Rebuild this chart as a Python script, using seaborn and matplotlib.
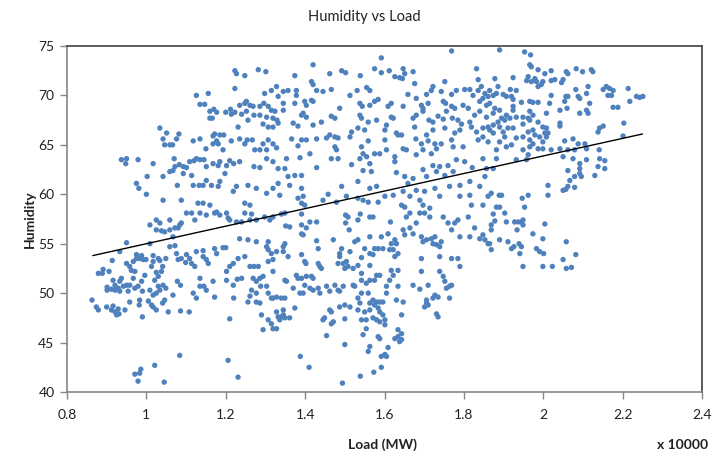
import matplotlib
matplotlib.use("Agg")
import matplotlib.pyplot as plt
import seaborn as sns
import pandas as pd
from matplotlib.ticker import FuncFormatter, MultipleLocator

# (load x10000 MW, humidity) pairs, by region
upper_left = [
(1.223,72.5),(1.227,72.2),(1.248,72.0),(1.282,72.6),(1.301,72.4),(1.223,70.7),(1.126,70.0),(1.156,70.2),
(1.298,70.2),(1.315,70.5),(1.328,70.9),(1.332,69.9),(1.135,69.1),(1.147,69.1),(1.160,68.4),(1.170,68.6),
(1.177,68.3),(1.200,68.3),(1.212,68.6),(1.223,68.3),(1.235,69.0),(1.248,69.2),(1.252,69.4),(1.261,69.0),
(1.269,68.9),(1.286,68.9),(1.296,69.2),(1.307,68.9),(1.315,68.5),(1.324,68.4),(1.319,67.7),(1.329,67.5),
(1.160,67.7),(1.166,67.7),(1.214,68.1),(1.240,68.1),(1.252,68.4),(1.256,67.5),(1.271,68.0),(1.286,68.0),
(1.303,67.8),(1.294,67.1),(1.307,66.8),(1.319,66.8),(1.332,67.2),(1.034,66.7),(1.051,66.2),(1.082,66.1),
(1.042,65.6),(1.046,65.0),(1.059,65.0),(1.066,65.0),(1.076,65.6),(1.118,65.4),(1.135,65.6),(1.168,65.9),
(1.172,66.1),(1.185,66.0),(1.195,66.0),(1.168,65.1),(1.177,65.4),(1.181,65.1),(1.193,64.5),(1.150,64.6),
(1.214,65.4),(1.231,66.8),(1.235,65.6),(1.248,65.1),(1.254,65.5),(1.267,65.5),(1.273,64.5),(1.286,64.5),
(1.294,65.1),(1.307,65.5),(1.319,65.1),(1.303,64.5),(1.328,64.7),(0.937,63.5),(0.950,63.6),(0.948,63.1),
(0.979,63.5),(1.017,63.1),(1.070,63.6),(1.072,62.8),(1.083,63.0),(1.093,62.8),(1.101,62.7),(1.109,63.3),
(1.120,63.4),(1.126,63.6),(1.135,63.5),(1.145,63.5),(1.151,62.8),(1.168,63.1),(1.181,62.9),(1.185,63.3),
(1.202,62.9),(1.210,63.4),(1.220,63.1),(1.235,63.3),(1.271,62.8),(1.286,62.7),(1.303,63.6),(1.319,63.3),
(1.332,62.6),(1.059,62.3),(1.067,62.4),(1.042,61.8),(1.002,61.8),(1.093,62.1),(1.114,61.9),(0.975,61.1),
(0.981,60.6),(1.078,60.9),(1.118,60.9),(1.133,60.9),(1.143,60.9),(1.151,61.4),(1.164,60.9),(1.181,60.8),
(1.198,62.1),(1.185,61.3),(1.227,60.8),(1.219,60.3),(1.256,60.9),(1.277,60.6),(1.303,60.1),(1.319,60.6),
(1.332,61.1),(1.000,60.0),(1.042,59.4),(1.088,59.4),(1.130,59.1),(1.143,59.1),(1.160,58.9),(1.248,59.1),
(1.261,58.9),
]

upper_middle = [
(1.769,74.5),(1.592,73.8),(1.420,73.1),(1.832,72.7),(1.374,72.0),(1.462,72.2),(1.492,72.5),(1.502,72.3),
(1.539,72.0),(1.575,72.7),(1.592,72.3),(1.612,72.5),(1.626,71.9),(1.638,71.8),(1.647,72.7),(1.651,72.2),
(1.645,71.7),(1.672,72.4),(1.836,71.6),(1.416,71.4),(1.420,71.1),(1.345,70.4),(1.357,70.5),(1.378,70.5),
(1.378,70.0),(1.429,70.5),(1.445,70.4),(1.466,70.6),(1.513,70.0),(1.531,70.5),(1.555,70.8),(1.563,70.5),
(1.659,70.1),(1.676,71.2),(1.680,69.7),(1.706,70.1),(1.718,70.5),(1.722,70.9),(1.743,70.4),(1.752,71.4),
(1.769,70.1),(1.781,70.5),(1.802,70.6),(1.815,70.6),(1.823,70.0),(1.836,70.5),(1.844,70.9),(1.853,70.2),
(1.861,69.9),(1.345,69.2),(1.374,69.2),(1.399,69.4),(1.403,69.0),(1.416,69.5),(1.420,69.4),(1.538,69.2),
(1.544,68.9),(1.563,69.0),(1.575,69.4),(1.584,69.6),(1.617,69.2),(1.609,68.9),(1.647,68.9),(1.693,69.0),
(1.697,68.7),(1.710,69.2),(1.748,69.4),(1.754,69.2),(1.769,68.9),(1.777,68.7),(1.798,69.0),(1.811,68.7),
(1.840,69.4),(1.848,69.7),(1.857,69.0),(1.345,68.5),(1.391,68.0),(1.395,68.2),(1.403,67.8),(1.466,67.9),
(1.475,67.7),(1.487,68.7),(1.538,68.0),(1.542,67.7),(1.559,67.3),(1.580,67.5),(1.605,67.0),(1.617,67.8),
(1.622,67.7),(1.672,67.7),(1.680,68.0),(1.697,68.4),(1.712,67.5),(1.722,67.3),(1.735,67.9),(1.748,67.6),
(1.756,68.4),(1.771,67.7),(1.785,67.5),(1.794,67.1),(1.815,67.3),(1.827,68.0),(1.840,68.4),(1.857,67.8),
(1.370,67.2),(1.382,66.9),(1.420,67.0),(1.441,67.3),(1.517,66.3),(1.533,66.7),(1.550,66.5),(1.601,66.5),
(1.630,66.2),(1.634,66.0),(1.643,66.0),(1.676,66.8),(1.706,66.0),(1.722,66.5),(1.752,66.7),(1.777,66.2),
(1.790,66.5),(1.819,66.8),(1.832,66.3),(1.848,66.7),(1.861,66.8),(1.366,65.6),(1.391,65.5),(1.429,65.6),
(1.454,65.7),(1.462,66.0),(1.475,65.8),(1.483,65.7),(1.513,65.8),(1.559,65.4),(1.601,65.5),(1.679,65.6),
(1.693,65.1),(1.710,65.4),(1.727,65.1),(1.743,65.1),(1.769,65.5),(1.798,64.8),(1.836,65.5),(1.848,65.8),
(1.861,65.3),(1.382,64.9),(1.403,65.5),(1.475,64.8),(1.479,64.5),(1.542,64.8),(1.546,64.1),(1.575,64.1),
(1.605,64.5),(1.647,64.6),(1.655,64.5),(1.697,64.5),(1.731,64.6),(1.773,64.8),(1.353,63.6),(1.387,63.7),
(1.412,64.1),(1.466,63.6),(1.483,63.6),(1.538,63.6),(1.555,63.8),(1.563,63.1),(1.588,64.1),(1.626,63.8),
(1.626,63.3),(1.680,64.0),(1.718,64.1),(1.722,62.9),(1.739,62.8),(1.760,62.9),(1.781,63.5),(1.802,63.3),
(1.821,62.7),(1.848,63.6),(1.857,62.6),(1.349,62.6),(1.357,61.8),(1.374,61.9),(1.391,61.9),(1.429,62.7),
(1.517,63.0),(1.546,62.4),(1.567,62.3),(1.630,62.2),(1.651,61.8),(1.672,61.6),(1.697,62.5),(1.706,61.8),
(1.731,62.3),(1.752,61.9),(1.773,62.3),(1.790,60.9),(1.815,61.3),(1.840,60.8),(1.853,61.8),(1.361,60.9),
(1.391,60.6),(1.492,60.8),(1.533,61.3),(1.563,60.6),(1.580,60.8),(1.647,60.3),(1.659,61.1),(1.680,60.4),
(1.701,60.3),(1.727,60.6),(1.764,60.8),(1.336,59.9),(1.382,59.6),(1.395,59.8),(1.391,59.1),(1.399,58.9),
(1.445,59.4),(1.458,60.0),(1.479,59.2),(1.504,59.8),(1.533,59.6),(1.546,59.4),(1.559,59.2),(1.584,59.2),
(1.601,59.8),(1.622,59.9),(1.643,58.9),(1.651,58.7),(1.664,59.8),(1.689,59.4),(1.697,58.9),(1.714,58.6),
(1.739,59.8),(1.790,59.8),(1.815,59.9),(1.819,58.9),(1.848,58.9),(1.861,59.8),
]

upper_right = [
(1.890,74.6),(1.953,74.4),(1.968,74.1),(1.966,73.1),(1.970,72.9),(1.987,72.6),(2.004,72.2),(2.020,72.5),
(2.058,72.4),(2.062,72.2),(2.083,72.7),(2.099,72.4),(2.121,72.6),(2.125,72.4),(1.924,71.8),(1.962,71.9),
(1.979,71.7),(1.958,71.5),(1.970,71.4),(1.983,71.4),(1.999,71.4),(1.995,71.1),(2.020,71.5),(2.029,71.6),
(2.046,71.3),(2.050,71.6),(1.987,70.9),(1.878,71.7),(1.865,70.5),(1.886,70.9),(1.917,70.6),(1.932,70.5),
(1.920,69.9),(2.082,70.6),(2.113,70.9),(2.109,70.2),(2.151,70.6),(2.159,70.9),(2.167,70.7),(2.176,70.5),
(2.172,70.0),(2.214,70.7),(2.235,69.9),(2.243,69.8),(2.251,69.9),(2.218,69.4),(2.163,70.0),(1.874,70.0),
(1.882,70.2),(1.899,70.1),(1.907,69.9),(1.924,69.6),(1.945,69.3),(1.966,69.4),(1.974,69.3),(1.987,69.3),
(2.016,69.2),(2.020,70.0),(2.057,69.9),(2.062,69.9),(2.088,69.9),(2.092,69.7),(2.117,69.2),(2.054,69.4),
(1.865,69.2),(1.878,68.7),(1.890,68.5),(1.924,68.5),(1.924,68.9),(2.042,68.5),(2.060,68.7),(2.092,68.2),
(2.109,68.5),(2.113,68.2),(2.176,68.8),(2.188,68.8),(1.874,68.2),(1.907,68.0),(1.966,68.4),(1.974,68.0),
(2.008,68.2),(1.949,67.8),(1.895,67.7),(1.903,67.5),(1.916,67.7),(1.932,67.8),(1.962,67.7),(1.966,67.5),
(1.987,67.3),(1.886,67.3),(1.874,67.0),(1.890,66.8),(1.911,66.7),(1.924,66.7),(1.949,67.1),(1.962,66.3),
(1.974,66.5),(1.999,66.8),(2.008,66.7),(2.004,66.2),(2.042,67.2),(2.042,66.9),(2.142,66.7),(2.151,66.9),
(2.138,66.3),(2.203,67.2),(1.865,66.5),(1.874,66.2),(1.899,66.3),(1.903,65.8),(1.932,65.7),(1.949,65.8),
(1.966,65.5),(1.979,66.0),(1.991,65.8),(2.008,65.8),(2.012,66.2),(1.999,65.3),(1.974,65.1),(1.966,64.8),
(1.987,64.6),(1.999,64.6),(2.020,64.5),(2.042,64.6),(2.054,65.4),(2.075,65.6),(2.088,65.1),(2.105,65.1),
(2.201,65.9),(1.907,64.8),(1.920,65.0),(1.890,65.3),(1.882,64.5),(1.949,64.5),(2.062,64.5),(2.079,64.5),
(2.109,64.6),(2.141,64.5),(2.050,63.8),(2.075,63.6),(2.109,63.5),(2.142,63.6),(2.155,63.4),(1.962,64.0),
(1.958,63.5),(1.932,63.5),(1.882,63.6),(2.092,63.1),(2.092,62.6),(2.138,62.8),(2.155,62.6),(1.874,62.6),
(2.062,62.4),(2.092,62.1),(2.130,61.9),(2.096,61.8),(2.079,61.8),(2.067,61.4),(2.062,60.8),(2.050,60.4),
(2.057,60.5),(2.079,60.7),(2.012,60.9),(2.012,59.9),(1.962,59.9),(1.947,59.6),(1.889,59.9),(1.895,59.9),
(1.869,60.1),(1.882,58.7),(1.890,58.7),(1.953,58.7),
]

lower_left = [
(0.863,49.3),(0.874,48.6),(0.879,48.3),(0.900,48.6),(0.916,48.7),(0.912,48.3),(0.921,48.1),(0.925,47.8),
(0.931,47.9),(0.929,48.4),(0.946,48.3),(0.958,49.1),(0.983,49.3),(0.982,48.8),(0.990,47.6),(1.005,49.2),
(1.013,48.8),(1.017,48.6),(1.025,48.3),(1.046,49.3),(1.041,49.0),(1.055,48.1),(1.086,48.2),(1.108,48.1),
(0.983,41.9),(0.971,41.8),(0.979,41.1),(0.986,42.3),(1.021,42.7),(1.045,41.0),(1.084,43.7),(1.206,43.2),
(1.231,41.5),(1.210,47.4),(0.879,52.0),(0.891,52.4),(0.889,52.0),(0.906,52.2),(0.914,53.3),(0.933,54.2),
(0.950,55.1),(0.916,51.3),(0.921,50.8),(0.933,51.2),(0.937,51.5),(0.901,50.6),(0.901,50.3),(0.912,50.4),
(0.921,50.3),(0.929,50.5),(0.933,50.2),(0.942,50.7),(0.950,50.8),(0.954,50.2),(0.950,53.0),(0.958,52.7),
(0.967,53.2),(0.962,52.3),(0.975,53.5),(0.971,52.2),(0.967,51.5),(0.958,50.8),(0.971,50.5),(0.979,50.7),
(0.988,51.2),(0.990,50.2),(0.996,51.8),(0.983,53.5),(0.992,53.4),(0.999,53.4),(1.017,53.8),(1.030,53.5),
(1.034,53.3),(1.017,53.2),(1.013,52.7),(1.025,52.1),(1.030,51.7),(1.021,51.3),(1.030,50.7),(1.034,50.3),
(1.042,50.8),(1.049,50.5),(1.025,50.0),(1.017,49.8),(1.009,50.3),(1.041,52.7),(1.038,52.2),(1.049,53.5),
(1.059,54.7),(1.067,49.8),(1.078,51.2),(1.086,50.8),(1.080,53.4),(1.088,53.5),(1.099,53.1),(1.109,53.5),
(1.114,53.0),(1.122,52.7),(1.126,54.2),(1.101,53.9),(1.118,50.0),(1.126,49.5),(1.135,51.5),(1.145,50.7),
(1.135,50.7),(1.151,53.4),(1.156,53.0),(1.151,50.3),(1.168,51.2),(1.172,49.6),(1.143,54.3),(1.172,54.5),
(1.193,54.6),(1.200,54.6),(1.202,52.2),(1.210,52.7),(1.219,53.0),(1.202,51.3),(1.219,50.8),(1.220,49.5),
(1.231,53.5),(1.235,55.5),(1.248,53.7),(1.229,51.4),(1.240,51.5),(1.256,55.4),(1.261,52.7),(1.269,51.5),
(1.271,52.7),(1.277,55.2),(1.282,52.7),(1.277,51.2),(1.286,51.5),(1.294,51.7),(1.288,50.7),(1.265,50.3),
(1.277,50.0),(1.261,49.7),(1.256,49.1),(1.277,49.1),(1.286,49.0),(1.290,47.8),(1.294,46.3),(1.303,54.7),
(1.307,54.4),(1.315,54.0),(1.307,53.2),(1.319,53.4),(1.319,52.2),(1.303,50.7),(1.307,50.0),(1.315,49.5),
(1.328,49.6),(1.319,49.5),(1.328,48.1),(1.307,47.3),(1.315,46.9),(1.319,46.4),(1.328,46.4),(1.332,47.6),
(1.328,54.2),(1.307,55.2),(1.025,57.4),(1.009,56.9),(1.034,57.1),(1.025,56.4),(1.038,56.3),(1.046,56.2),
(1.059,56.4),(1.072,56.6),(1.080,56.6),(1.084,56.9),(1.088,57.1),(1.059,57.4),(1.101,58.1),(1.114,58.1),
(1.122,57.4),(1.135,58.1),(1.151,57.9),(1.172,58.1),(1.177,58.2),(1.185,57.9),(1.202,58.1),(1.206,57.6),
(1.210,57.4),(1.227,57.2),(1.240,57.2),(1.248,58.1),(1.261,57.4),(1.265,58.0),(1.277,57.4),(1.298,57.7),
(1.311,57.4),(1.319,57.7),(1.067,55.7),(1.076,54.0),(1.072,54.8),(1.009,55.0),(0.975,53.9),(0.988,53.8),
(1.143,53.7),(1.177,54.0),
]

lower_middle = [
(1.340,58.0),(1.349,58.1),(1.391,58.0),(1.412,57.2),(1.429,57.2),(1.351,56.8),(1.361,56.7),(1.391,56.9),
(1.391,56.0),(1.395,55.9),(1.403,56.6),(1.349,55.0),(1.345,54.7),(1.345,54.2),(1.357,53.7),(1.429,55.3),
(1.433,54.5),(1.471,55.4),(1.492,54.5),(1.487,54.0),(1.487,53.7),(1.483,53.0),(1.496,53.0),(1.504,53.2),
(1.513,54.2),(1.508,52.7),(1.500,52.5),(1.502,57.9),(1.508,57.7),(1.502,57.1),(1.511,56.4),(1.533,57.4),
(1.539,58.0),(1.525,55.2),(1.533,55.4),(1.542,53.6),(1.550,54.5),(1.563,57.7),(1.571,57.7),(1.563,55.7),
(1.575,54.5),(1.571,53.9),(1.563,54.0),(1.563,52.8),(1.584,54.5),(1.592,55.7),(1.596,54.5),(1.609,56.0),
(1.615,57.2),(1.617,55.0),(1.622,54.4),(1.613,54.4),(1.626,55.4),(1.630,55.0),(1.634,54.0),(1.626,53.7),
(1.647,56.4),(1.651,55.9),(1.655,57.7),(1.664,58.1),(1.664,56.6),(1.672,56.0),(1.680,57.1),(1.689,58.1),
(1.701,58.1),(1.714,57.7),(1.693,55.7),(1.697,55.2),(1.706,55.4),(1.718,55.5),(1.722,55.0),(1.731,54.9),
(1.739,54.7),(1.743,55.2),(1.727,55.7),(1.748,57.7),(1.760,57.1),(1.769,56.4),(1.777,57.1),(1.785,57.4),
(1.790,55.7),(1.815,55.7),(1.827,56.6),(1.840,55.5),(1.853,55.4),(1.861,55.0),(1.848,55.9),(1.811,57.7),
(1.769,53.5),(1.785,53.5),(1.790,52.7),(1.739,53.7),(1.693,53.5),(1.693,52.2),(1.739,52.2),(1.748,51.7),
(1.752,51.2),(1.764,50.7),(1.769,50.8),(1.756,50.5),(1.764,49.5),(1.727,49.8),(1.735,49.6),(1.722,49.5),
(1.710,50.8),(1.689,50.4),(1.672,50.8),(1.706,49.0),(1.701,48.6),(1.731,47.9),(1.735,47.6),(1.643,47.8),
(1.634,52.3),(1.617,52.3),(1.622,51.8),(1.634,50.7),(1.613,51.3),(1.605,50.7),(1.588,51.8),(1.580,51.8),
(1.575,51.3),(1.563,51.3),(1.559,50.0),(1.571,49.3),(1.580,49.1),(1.588,49.1),(1.596,49.1),(1.575,48.8),
(1.584,48.5),(1.588,48.1),(1.596,47.8),(1.601,47.3),(1.601,46.8),(1.588,47.1),(1.580,47.3),(1.571,47.5),
(1.563,48.3),(1.550,48.1),(1.538,49.0),(1.542,50.0),(1.525,50.7),(1.533,49.5),(1.521,50.8),(1.500,48.8),
(1.513,48.6),(1.500,47.4),(1.487,48.6),(1.483,50.3),(1.487,50.2),(1.496,50.7),(1.462,50.2),(1.462,48.3),
(1.471,47.1),(1.466,46.9),(1.445,47.3),(1.454,45.7),(1.437,50.0),(1.433,50.5),(1.420,50.3),(1.412,50.5),
(1.399,50.8),(1.395,50.0),(1.387,50.0),(1.420,51.5),(1.416,51.7),(1.403,51.7),(1.391,51.5),(1.382,51.5),
(1.378,51.8),(1.370,50.5),(1.374,48.5),(1.349,51.3),(1.353,51.2),(1.437,52.7),(1.433,53.0),(1.441,52.5),
(1.349,49.5),(1.340,49.5),(1.345,48.3),(1.345,47.8),(1.340,47.6),(1.336,47.3),(1.349,47.5),(1.361,47.5),
(1.399,53.2),(1.402,53.0),(1.391,53.9),(1.388,43.6),(1.410,42.5),(1.494,40.9),(1.539,41.6),(1.573,42.0),
(1.592,42.5),(1.592,43.6),(1.601,43.8),(1.605,43.6),(1.609,44.5),(1.559,44.1),(1.563,44.6),(1.546,45.8),
(1.554,46.4),(1.500,44.8),(1.584,45.6),(1.588,45.4),(1.626,45.4),(1.634,45.6),(1.643,45.9),(1.643,45.3),
(1.638,45.1),(1.634,46.3),(1.449,47.5),(1.466,48.1),(1.533,48.3),(1.542,47.3),(1.554,47.3),(1.563,49.0),
(1.542,51.3),(1.554,51.0),(1.521,52.5),(1.533,52.8),(1.542,52.0),(1.454,50.7),(1.475,50.8),(1.605,50.0),
(1.630,49.3),(1.647,49.1),(1.706,49.3),(1.710,48.8),
]

lower_right = [
(1.874,58.0),(1.903,58.1),(1.907,57.2),(1.928,57.2),(1.937,57.2),(1.945,57.2),(1.949,57.4),(1.949,56.9),
(2.004,57.0),(1.869,56.9),(1.869,56.4),(1.878,57.3),(1.934,56.4),(1.974,56.0),(1.999,55.5),(1.890,55.4),
(1.911,55.2),(1.865,55.0),(1.869,54.4),(1.920,54.5),(1.926,54.7),(1.939,55.0),(1.945,54.7),(1.941,54.0),
(1.949,52.7),(1.983,54.5),(1.991,54.2),(2.001,54.0),(1.999,52.7),(2.023,52.7),(2.050,53.4),(2.058,55.2),
(2.058,52.5),(2.071,52.6),(2.082,53.9),
]

trend_load = [0.865, 2.25]
trend_humidity = [53.8, 66.1]

x_ticks = [0.8, 1.0, 1.2, 1.4, 1.6, 1.8, 2.0, 2.2, 2.4]
y_ticks = [40, 45, 50, 55, 60, 65, 70, 75]

pairs = upper_left + upper_middle + upper_right + lower_left + lower_middle + lower_right
df = pd.DataFrame(pairs, columns=["load", "humidity"])
trend = pd.DataFrame({"load": trend_load, "humidity": trend_humidity})

sns.set_theme(style="white")
plt.rcParams["font.family"] = ["Lato", "DejaVu Sans"]

fig = plt.figure(figsize=(7.14, 4.58), dpi=100)
ax = fig.add_axes([67/714, 1-392/458, (702-67)/714, (392-46)/458])

sns.scatterplot(data=df, x="load", y="humidity", ax=ax, s=15, color="#4F81BD",
                edgecolor="none", linewidth=0, alpha=1.0, zorder=2)
sns.lineplot(data=trend, x="load", y="humidity", ax=ax, color="black", linewidth=1.0, zorder=3)

ax.set_xlim(0.8, 2.4)
ax.set_ylim(40, 75)
ax.set_xticks(x_ticks)
ax.set_yticks(y_ticks)
ax.xaxis.set_major_formatter(FuncFormatter(lambda v, p: f"{v:g}"))
ax.tick_params(axis="both", direction="out", length=5, width=1, color="#868686",
               labelsize=10, labelcolor="#222222", pad=4, bottom=True, left=True)
ax.tick_params(axis="x", pad=7)
for side in ["left", "bottom"]:
    ax.spines[side].set_color("#868686")
    ax.spines[side].set_linewidth(1.2)
for side in ["top", "right"]:
    ax.spines[side].set_color("#404040")
    ax.spines[side].set_linewidth(1.2)
ax.set_xlabel("")
ax.set_ylabel("")
ax.grid(False)

fig.text(364/714, 1-17/458, "Humidity vs Load", ha="center", va="center", fontsize=10.5, color="#222222")
fig.text(30/714, 1-219/458, "Humidity", ha="center", va="center", rotation=90,
         fontsize=10, fontweight="bold", color="#222222")
fig.text(383/714, 1-445/458, "Load (MW)", ha="center", va="center",
         fontsize=10, fontweight="bold", color="#222222")
fig.text(683/714, 1-445/458, "x 10000", ha="center", va="center",
         fontsize=10, fontweight="bold", color="#222222")

fig.savefig("out.png", dpi=100)
